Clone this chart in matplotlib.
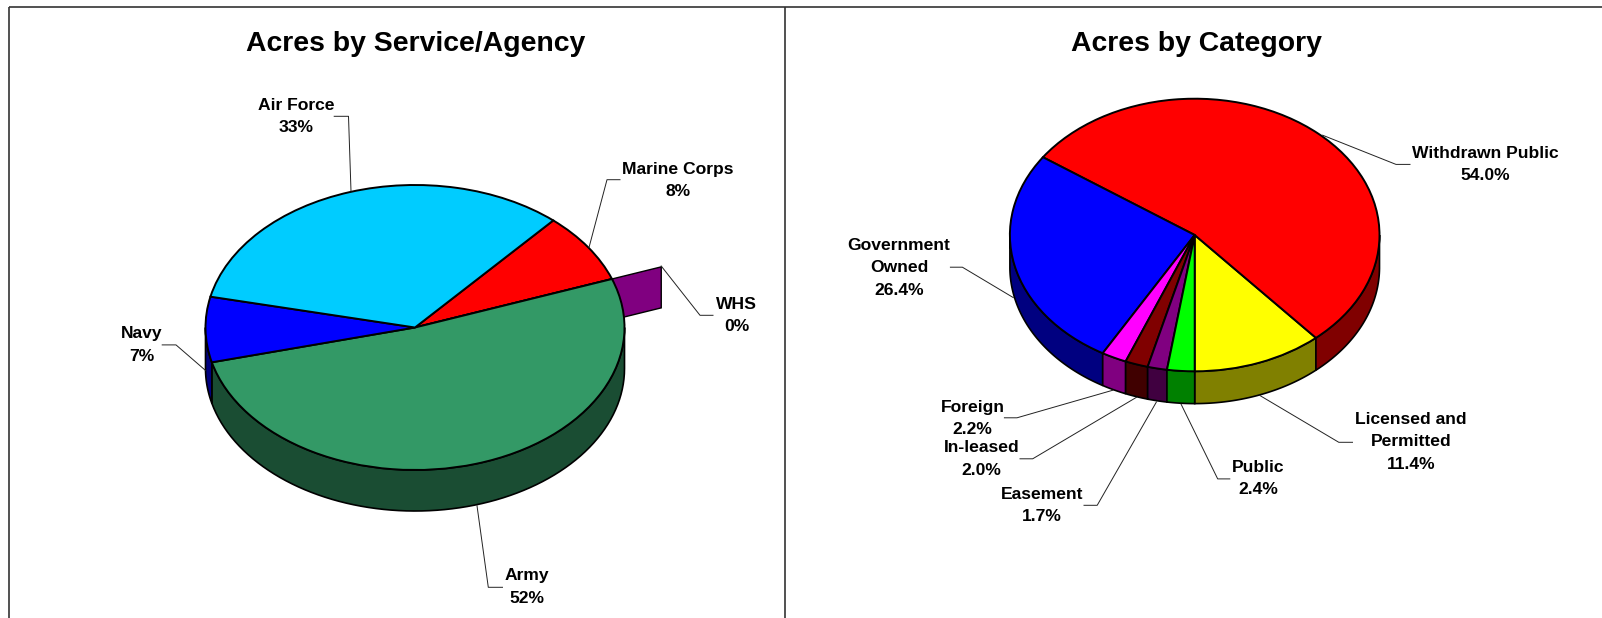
import numpy as np
import matplotlib
matplotlib.use("Agg")
import matplotlib.pyplot as plt
from matplotlib.colors import to_rgb

plt.rcParams['font.family'] = ['Liberation Sans', 'DejaVu Sans']

W, H = 1602, 618

# left pie, clockwise from the Air Force / Marine Corps boundary
service_names = ['Marine Corps', 'WHS', 'Army', 'Navy', 'Air Force']
service_pct = [8.0, 0.0, 51.6, 7.4, 33.0]
service_colors = ['#FF0000', '#800080', '#339966', '#0000FF', '#00CCFF']

# right pie, counter-clockwise from straight down
category_names = ['Licensed and\nPermitted', 'Withdrawn Public', 'Government\nOwned',
                  'Foreign', 'In-leased', 'Easement', 'Public']
category_pct = [11.4, 54.0, 26.4, 2.2, 2.0, 1.7, 2.4]
category_colors = ['#FFFF00', '#FF0000', '#0000FF', '#FF00FF', '#800000', '#800080', '#00FF00']

# label centre x, y and leader line points, in figure pixels
service_layout = {
    'Marine Corps': (678, 180.5, [(620, 179.7), (607, 179.7), (589, 247.5)]),
    'WHS': (736.7, 315.5, [(713, 315.3), (700, 315.3), (661.2, 266)]),
    'Army': (527, 587, [(502.5, 587.3), (488.3, 587.3), (477, 505.7)]),
    'Navy': (141.8, 345, [(162.2, 344.9), (176, 344.9), (205.6, 370.5)]),
    'Air Force': (296, 116.7, [(334.2, 116.3), (348.5, 116.3), (351, 191.2)]),
}
category_layout = {
    'Licensed and\nPermitted': (1411, 441.8, [(1352.5, 442.3), (1338.8, 442.3), (1259.7, 395.4)]),
    'Withdrawn Public': (1485, 164.7, [(1410, 164.4), (1396, 164.4), (1322.6, 135.2)]),
    'Government\nOwned': (899, 267.8, [(950.4, 267.2), (962.4, 267.2), (1013.3, 297.6)]),
    'Foreign': (972.4, 418.5, [(1004.4, 417.8), (1017, 417.8), (1112.9, 390.2)]),
    'In-leased': (981.3, 459, [(1020, 458.8), (1032.7, 458.8), (1136.5, 397.3)]),
    'Easement': (1042, 505.5, [(1084, 505.3), (1097.2, 505.3), (1156.4, 402)]),
    'Public': (1258, 478.7, [(1229.8, 478.9), (1217.7, 478.9), (1181, 404)]),
}


def darker(color):
    return tuple(c * 0.5 for c in to_rgb(color))


def draw_pie(fig, values, colors, cx, cy, rx, ry, depth, startangle, counterclock):
    # axes sized so one data unit is rx by ry pixels, which flattens the pie
    span = 1.4
    ax = fig.add_axes([(cx - span * rx) / W, 1 - (cy + span * ry) / H,
                       2 * span * rx / W, 2 * span * ry / H])
    ax.pie(values, colors=colors, startangle=startangle, counterclock=counterclock,
           radius=1, wedgeprops={'edgecolor': 'black', 'linewidth': 1.4})
    ax.set_aspect('auto')
    ax.set_xlim(-span, span)
    ax.set_ylim(-span, span)

    d = depth / ry
    fracs = np.array(values) / np.sum(values)
    sign = 1 if counterclock else -1
    edges = startangle + sign * 360 * np.concatenate([[0], np.cumsum(fracs)])
    for i, color in enumerate(colors):
        a, b = sorted((edges[i], edges[i + 1]))
        # only the front half of the rim shows; try each turn of the angle
        for shift in (-360, 0, 360):
            lo, hi = max(a + shift, 180), min(b + shift, 360)
            if hi <= lo:
                continue
            t = np.radians(np.linspace(lo, hi, 80))
            xs = np.concatenate([np.cos(t), np.cos(t[::-1])])
            ys = np.concatenate([np.sin(t), np.sin(t[::-1]) - d])
            ax.fill(xs, ys, facecolor=darker(color), edgecolor='black', linewidth=1.2, zorder=0)
    return ax, edges, d


def put_labels(ax, names, values, layout, fmt):
    for name, val in zip(names, values):
        x, y, leader = layout[name]
        ax.text(x, y, name + '\n' + fmt.format(val), ha='center', va='center',
                fontsize=12.6, fontweight='bold', linespacing=1.62, color='black')
        ax.plot([p[0] for p in leader], [p[1] for p in leader], color='#222222', lw=0.7)


fig = plt.figure(figsize=(W / 100, H / 100), dpi=100, facecolor='white')

ax1, edges1, d1 = draw_pie(fig, service_pct, service_colors, 415, 327.5, 209.5, 142.5, 41.0, 48.7, False)
# WHS is a zero slice pulled out of the pie, so only its cut face shows
whs = service_names.index('WHS')
angle = np.radians(edges1[whs])
r = np.array([0.9, 1.25])
ax1.fill(np.concatenate([r * np.cos(angle), r[::-1] * np.cos(angle)]),
         np.concatenate([r * np.sin(angle), r[::-1] * np.sin(angle) - d1]),
         facecolor=service_colors[whs], edgecolor='black', linewidth=1.0, zorder=0)

draw_pie(fig, category_pct, category_colors, 1194.7, 235, 184.8, 136.3, 32.3, -90, True)

# overlay in figure pixels for frame, titles and labels
over = fig.add_axes([0, 0, 1, 1], facecolor='none')
over.set_xlim(0, W)
over.set_ylim(H, 0)
over.axis('off')

over.plot([9, 9], [H, 6.5], color='#333333', lw=1.2, solid_capstyle='butt')
over.plot([9, W], [6.5, 6.5], color='#333333', lw=1.2, solid_capstyle='butt')
over.plot([785, 785], [6.5, H], color='#333333', lw=1.2, solid_capstyle='butt')

over.text(416, 44, 'Acres by Service/Agency', ha='center', va='center', fontsize=20.4, fontweight='bold')
over.text(1196.8, 44, 'Acres by Category', ha='center', va='center', fontsize=20.4, fontweight='bold')

put_labels(over, service_names, service_pct, service_layout, '{:.0f}%')
put_labels(over, category_names, category_pct, category_layout, '{:.1f}%')

fig.savefig('out.png', dpi=100)
